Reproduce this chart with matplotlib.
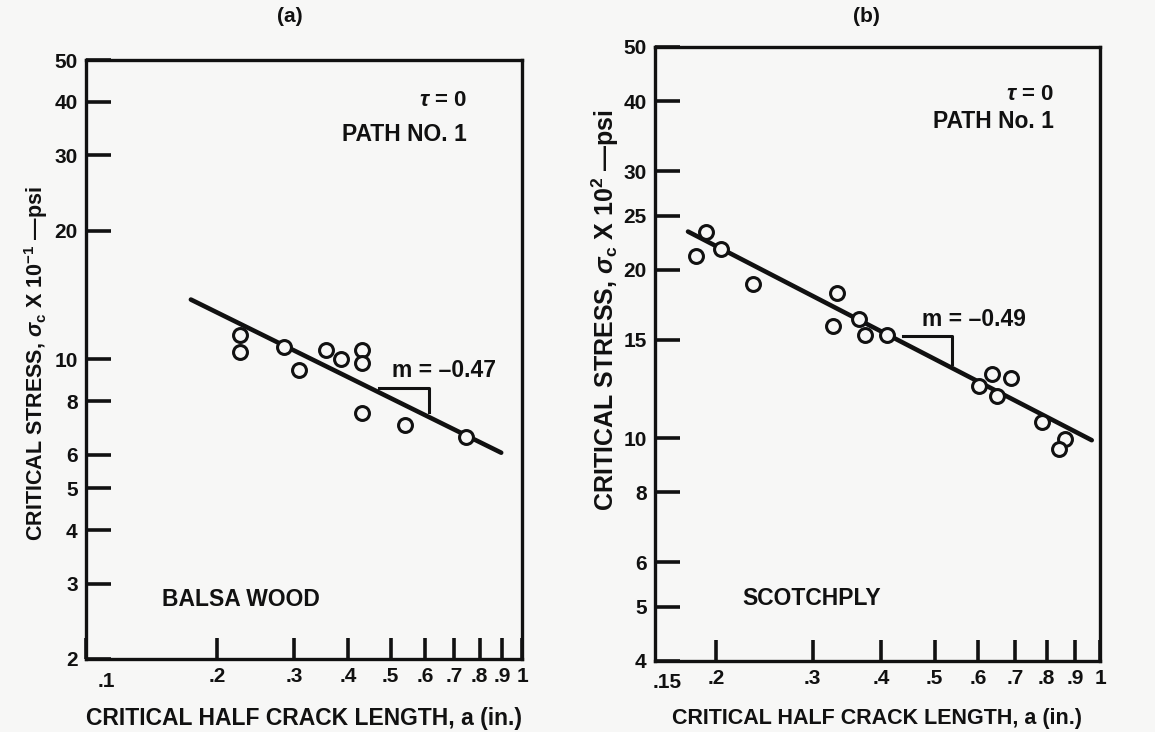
import matplotlib.pyplot as plt
from matplotlib.ticker import FixedLocator, FixedFormatter, NullLocator

plt.rcParams['font.family'] = ['Liberation Sans', 'DejaVu Sans']
plt.rcParams['font.weight'] = 'bold'
plt.rcParams['mathtext.fontset'] = 'custom'
plt.rcParams['mathtext.rm'] = 'Liberation Sans:bold'
plt.rcParams['mathtext.it'] = 'Liberation Sans:italic:bold'
plt.rcParams['mathtext.bf'] = 'Liberation Sans:bold'

INK = '#111111'
PAPER = '#f7f7f6'

# (a) balsa wood : half crack length (in.) vs critical stress (x 10^-1 psi)
balsa_a = [0.226, 0.226, 0.285, 0.308, 0.355, 0.384, 0.430, 0.430, 0.430, 0.539, 0.744]
balsa_s = [11.4, 10.4, 10.7, 9.45, 10.5, 10.0, 10.5, 9.8, 7.5, 7.05, 6.6]
balsa_fit_a = [0.174, 0.896]
balsa_fit_s = [13.8, 6.06]
balsa_tri_a = [0.471, 0.612, 0.612]
balsa_tri_s = [8.59, 8.59, 7.55]

# (b) scotchply : half crack length (in.) vs critical stress (x 10^2 psi)
scotch_a = [0.192, 0.184, 0.204, 0.234, 0.332, 0.327, 0.364, 0.374, 0.409,
            0.603, 0.635, 0.649, 0.688, 0.783, 0.863, 0.842]
scotch_s = [23.4, 21.2, 21.8, 18.9, 18.2, 15.9, 16.3, 15.3, 15.3,
            12.4, 13.0, 11.9, 12.8, 10.7, 9.95, 9.55]
scotch_fit_a = [0.178, 0.966]
scotch_fit_s = [23.4, 9.92]
scotch_tri_a = [0.438, 0.537, 0.537]
scotch_tri_s = [15.2, 15.2, 13.6]

a_xticks = [0.1, 0.2, 0.3, 0.4, 0.5, 0.6, 0.7, 0.8, 0.9, 1.0]
a_xlabels = ['', '.2', '.3', '.4', '.5', '.6', '.7', '.8', '.9', '1']
a_yticks = [2, 3, 4, 5, 6, 8, 10, 20, 30, 40, 50]
b_xticks = [0.2, 0.3, 0.4, 0.5, 0.6, 0.7, 0.8, 0.9, 1.0]
b_xlabels = ['.2', '.3', '.4', '.5', '.6', '.7', '.8', '.9', '1']
b_yticks = [4, 5, 6, 8, 10, 15, 20, 25, 30, 40, 50]

TICK_FS = 15


def setup(ax, xlim, ylim, xt, xl, yt):
    ax.set_facecolor(PAPER)
    ax.set_xscale('log')
    ax.set_yscale('log')
    ax.set_xlim(xlim)
    ax.set_ylim(ylim)
    ax.xaxis.set_major_locator(FixedLocator(xt))
    ax.xaxis.set_major_formatter(FixedFormatter(xl))
    ax.xaxis.set_minor_locator(NullLocator())
    ax.yaxis.set_major_locator(FixedLocator(yt))
    ax.yaxis.set_major_formatter(FixedFormatter([str(v) for v in yt]))
    ax.yaxis.set_minor_locator(NullLocator())
    ax.tick_params(axis='x', direction='in', length=15, width=2.6, pad=6,
                   labelsize=TICK_FS, colors=INK)
    ax.tick_params(axis='y', direction='in', length=18, width=2.6, pad=6,
                   labelsize=TICK_FS, colors=INK)
    for s in ax.spines.values():
        s.set_linewidth(2.4)
        s.set_color(INK)


def draw(ax, xs, ys, fx, fy, tx, ty):
    ax.plot(fx, fy, color=INK, lw=3.3, solid_capstyle='round', zorder=2)
    ax.plot(tx, ty, color=INK, lw=2.2, zorder=2)
    ax.plot(xs, ys, 'o', ms=10, mfc=PAPER, mec=INK, mew=2.2, zorder=3)


fig = plt.figure(figsize=(11.55, 7.32), dpi=100, facecolor=PAPER)

# ---- (a)
ax1 = fig.add_axes([86 / 1155, 1 - 659 / 732, 436 / 1155, 599 / 732])
setup(ax1, (0.1, 1.0), (2, 50), a_xticks, a_xlabels, a_yticks)
draw(ax1, balsa_a, balsa_s, balsa_fit_a, balsa_fit_s, balsa_tri_a, balsa_tri_s)
ax1.text(0.0275, -0.021, '.1', transform=ax1.transAxes, ha='left', va='top',
         fontsize=TICK_FS, color=INK)
ax1.text(0.874, 0.933, r'$\tau$ = 0', transform=ax1.transAxes, ha='right',
         va='center', fontsize=16, color=INK)
ax1.text(0.874, 0.876, 'PATH NO. 1', transform=ax1.transAxes, ha='right',
         va='center', fontsize=16.5, color=INK)
ax1.text(0.701, 0.481, 'm = \u20130.47', transform=ax1.transAxes, ha='left',
         va='center', fontsize=16.5, color=INK)
ax1.text(0.174, 0.100, 'BALSA WOOD', transform=ax1.transAxes, ha='left',
         va='center', fontsize=16.5, color=INK)
ax1.text(-0.115, 0.4925,
         'CRITICAL STRESS, $\\sigma_{\\mathrm{c}}$ X 10$^{-1}$ \u2014psi',
         transform=ax1.transAxes, rotation=90, ha='center', va='center',
         fontsize=15.5, color=INK)
ax1.text(0.5, -0.0985, 'CRITICAL HALF CRACK LENGTH, a (in.)',
         transform=ax1.transAxes, ha='center', va='center', fontsize=16.5,
         color=INK)
fig.text(290 / 1155, 1 - 17 / 732, '(a)', ha='center', va='center',
         fontsize=15, color=INK)

# ---- (b)
ax2 = fig.add_axes([655 / 1155, 1 - 661 / 732, 445 / 1155, 614 / 732])
setup(ax2, (0.155, 1.0), (4, 50), b_xticks, b_xlabels, b_yticks)
draw(ax2, scotch_a, scotch_s, scotch_fit_a, scotch_fit_s, scotch_tri_a, scotch_tri_s)
ax2.text(-0.0045, -0.019, '.15', transform=ax2.transAxes, ha='left', va='top',
         fontsize=TICK_FS, color=INK)
ax2.text(0.897, 0.922, r'$\tau$ = 0', transform=ax2.transAxes, ha='right',
         va='center', fontsize=16, color=INK)
ax2.text(0.897, 0.879, 'PATH No. 1', transform=ax2.transAxes, ha='right',
         va='center', fontsize=16.5, color=INK)
ax2.text(0.599, 0.5565, 'm = \u20130.49', transform=ax2.transAxes, ha='left',
         va='center', fontsize=16.5, color=INK)
ax2.text(0.196, 0.101, 'SCOTCHPLY', transform=ax2.transAxes, ha='left',
         va='center', fontsize=16.5, color=INK)
ax2.text(-0.112, 0.572,
         'CRITICAL STRESS, $\\sigma_{\\mathrm{c}}$ X 10$^2$ \u2014psi',
         transform=ax2.transAxes, rotation=90, ha='center', va='center',
         fontsize=18, color=INK)
ax2.text(0.5, -0.093, 'CRITICAL HALF CRACK LENGTH, a (in.)',
         transform=ax2.transAxes, ha='center', va='center', fontsize=15.5,
         color=INK)
fig.text(866 / 1155, 1 - 17 / 732, '(b)', ha='center', va='center',
         fontsize=15, color=INK)

fig.savefig('out.png', dpi=100, facecolor=PAPER)
